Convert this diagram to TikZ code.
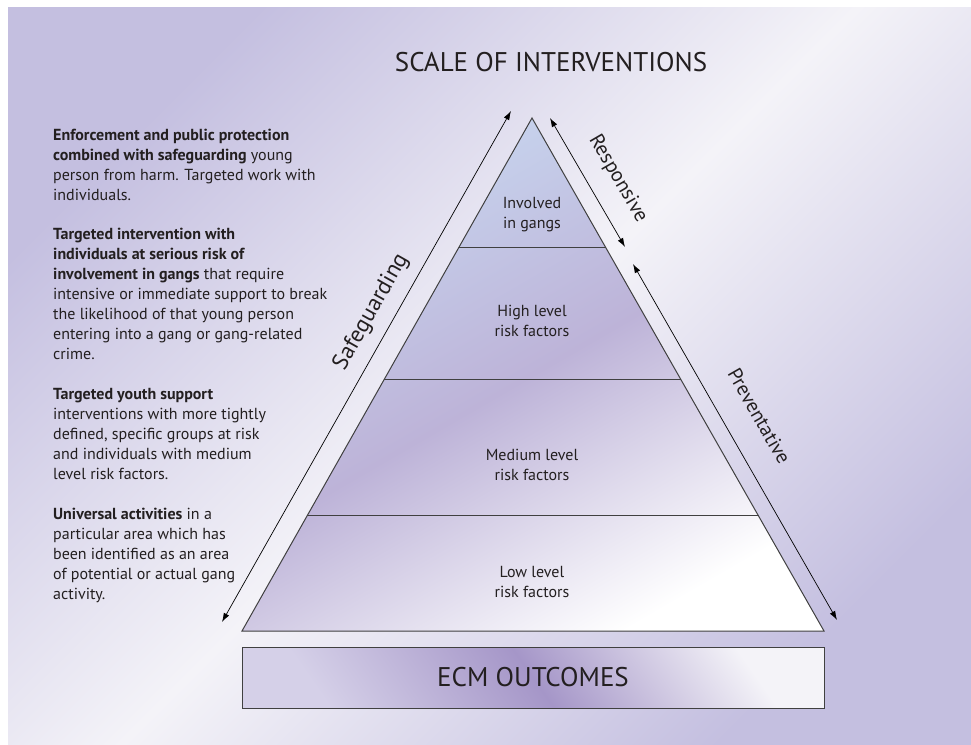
\documentclass[tikz,border=0pt]{standalone}
\usepackage{fontspec}
\setmainfont{PT Sans}
\usetikzlibrary{arrows.meta, calc, positioning}
\definecolor{mlav}{HTML}{C4BFE0}
\definecolor{mpale}{HTML}{F4F3F8}
\definecolor{mblue}{HTML}{C8D7F0}
\definecolor{mpurp}{HTML}{BDB3D8}
\definecolor{mdeep}{HTML}{A596C8}
\definecolor{mlight}{HTML}{D5D0E8}
\definecolor{mink}{HTML}{231F20}
\tikzstyle{heading} = [text = mink, font = \fontsize{27}{30}\selectfont]
\tikzstyle{tier} = [text = mink, align = center, font = \fontsize{16}{20}\selectfont]
\tikzstyle{blurb} = [anchor = north west, inner sep = 0pt, align = left, text = mink, font = \fontsize{16}{20}\selectfont]
\tikzstyle{side} = [text = mink, sloped, anchor = base, inner sep = 0pt, font = \fontsize{23}{26}\selectfont]
\tikzstyle{span} = [line width = 0.7pt, {Latex[length = 9pt, width = 6pt]}-{Latex[length = 9pt, width = 6pt]}]
\tikzstyle{rule} = [draw = black!75, line width = 1pt]
\tikzstyle{outcome} = [draw = black!75, line width = 1pt, minimum width = 582pt, minimum height = 61pt, text = mink, font = \fontsize{27}{30}\selectfont, top color = mpale, bottom color = mlight, middle color = mdeep, shading angle = -55]

\begin{document}
\begin{tikzpicture}[x = 1pt, y = 1pt]
  \useasboundingbox (0,0) rectangle (971,-744);
  \fill [white] (0,0) rectangle (971,-744);
  \shade [top color = mlav, bottom color = mlav, middle color = mpale, shading angle = 45] (8,-7) rectangle (971,-744);
  \node (title) [heading] at (551,-62) {SCALE OF INTERVENTIONS};
  % pyramid
  \coordinate (apex) at (532,-118);
  \coordinate (bl) at (242,-631);
  \coordinate (br) at (824,-631);
  \coordinate (l1) at ($(apex)!0.2534!(bl)$);
  \coordinate (r1) at ($(apex)!0.2534!(br)$);
  \coordinate (l2) at ($(apex)!0.5088!(bl)$);
  \coordinate (r2) at ($(apex)!0.5088!(br)$);
  \coordinate (l3) at ($(apex)!0.7758!(bl)$);
  \coordinate (r3) at ($(apex)!0.7758!(br)$);
  \shade [top color = mblue, bottom color = white, middle color = mpurp, shading angle = 30] (apex) -- (bl) -- (br) -- cycle;
  \draw [rule] (apex) -- (bl) -- (br) -- cycle;
  \draw [rule] (l1) -- (r1);
  \draw [rule] (l2) -- (r2);
  \draw [rule] (l3) -- (r3);
  \node (gangs) [tier] at (532,-215) {Involved\\in gangs};
  \node (high) [tier] at (532,-321) {High level\\risk factors};
  \node (medium) [tier] at (532,-465) {Medium level\\risk factors};
  \node (low) [tier] at (532,-582) {Low level\\risk factors};
  \node (ecm) [outcome] at (533,-677.5) {ECM OUTCOMES};
  % side arrows
  \coordinate (sg1) at (222,-622);
  \coordinate (sg2) at (511,-111);
  \coordinate (rs1) at (550,-118);
  \coordinate (rs2) at (625,-247);
  \coordinate (pv1) at (633,-264);
  \coordinate (pv2) at (837,-620);
  \draw [span] (sg1) -- node [side, pos = 0.585, yshift = 17pt] {Safeguarding} (sg2);
  \draw [span] (rs1) -- node [side, pos = 0.58, yshift = 23pt, font = \fontsize{20.5}{24}\selectfont] {Responsive} (rs2);
  \draw [span] (pv1) -- node [side, pos = 0.475, yshift = 27pt, font = \fontsize{20}{24}\selectfont] {Preventative} (pv2);
  % left column
  \node (enforce) [blurb] at (53,-129) {\textbf{Enforcement and public protection}\\\textbf{combined with safeguarding} young\\person from harm. Targeted work with\\individuals.};
  \node (serious) [blurb] at (53,-228) {\textbf{Targeted intervention with}\\\textbf{individuals at serious risk of}\\\textbf{involvement in gangs} that require\\intensive or immediate support to break\\the likelihood of that young person\\entering into a gang or gang-related\\crime.};
  \node (youth) [blurb] at (53,-388) {\textbf{Targeted youth support}\\interventions with more tightly\\defined, specific groups at risk\\and individuals with medium\\level risk factors.};
  \node (universal) [blurb] at (53,-508) {\textbf{Universal activities} in a\\particular area which has\\been identified as an area\\of potential or actual gang\\activity.};
\end{tikzpicture}
\end{document}
